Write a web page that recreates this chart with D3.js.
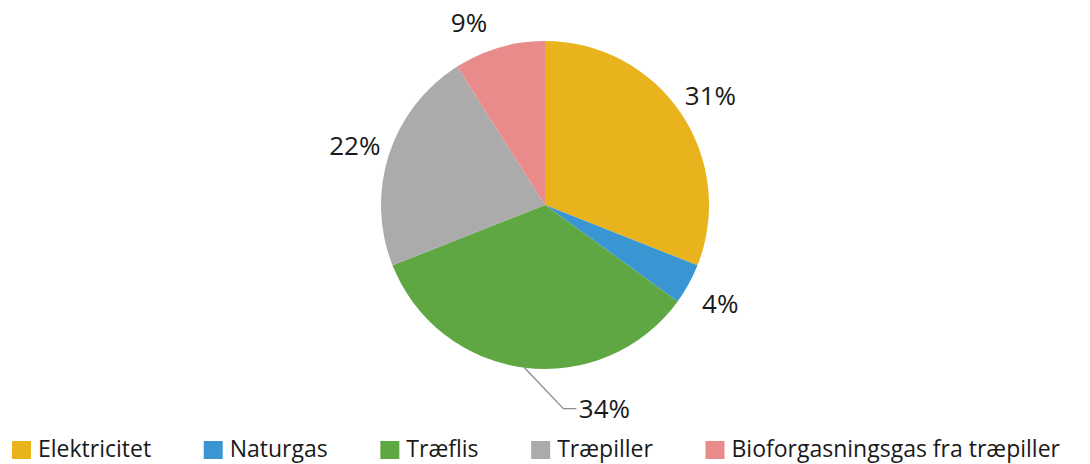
<!DOCTYPE html>
<html>
<head>
<meta charset="utf-8">
<script src="https://cdn.jsdelivr.net/npm/d3@7"></script>
<style>
  body { margin: 0; background: #fff; }
  text { font-family: "Open Sans", "Liberation Sans", sans-serif; fill: #1a1a1a; }
</style>
</head>
<body>
<div id="chart"></div>
<script>
// data
const categories = ['Elektricitet', 'Naturgas', 'Træflis', 'Træpiller', 'Bioforgasningsgas fra træpiller'];
const shares = [31, 4, 34, 22, 9];
const colors = ['#E8B31C', '#3996D2', '#5EA743', '#ABABAB', '#E98A8B'];

const width = 1090, height = 464;
const cx = 545, cy = 205, radius = 164;
const labelRadius = 200;

const svg = d3.select('#chart')
  .append('svg')
  .attr('width', width)
  .attr('height', height);

const pie = d3.pie().sort(null).value(d => d.value);
const slices = pie(categories.map((c, i) => ({ name: c, value: shares[i], color: colors[i] })));

const arc = d3.arc().innerRadius(0).outerRadius(radius);
const labelArc = d3.arc().innerRadius(labelRadius).outerRadius(labelRadius);
const edgeArc = d3.arc().innerRadius(radius).outerRadius(radius);

const g = svg.append('g').attr('transform', `translate(${cx},${cy})`);

g.selectAll('path.slice')
  .data(slices)
  .enter()
  .append('path')
  .attr('class', 'slice')
  .attr('d', arc)
  .attr('fill', d => d.data.color);

// labels; the 34% label was dragged away from the slice and has a leader line
const topLimit = 20 - cy;
slices.forEach(d => {
  let pos = labelArc.centroid(d);
  let shift = 12;
  if (pos[1] < topLimit) {
    // keep label inside the frame, slide it along the label circle
    const y = topLimit;
    pos = [Math.sign(pos[0]) * Math.sqrt(labelRadius * labelRadius - y * y), y];
  }
  if (d.data.name === 'Træflis') {
    const edge = edgeArc.centroid(d);
    const knee = [edge[0] + 39, edge[1] + 41];
    const end = [knee[0] + 13, knee[1]];
    g.append('path')
      .attr('d', d3.line()([edge, knee, end]))
      .attr('fill', 'none')
      .attr('stroke', '#8c8c8c')
      .attr('stroke-width', 1.3);
    pos = [end[0] + 28, end[1]];
    shift = 9;
  }
  g.append('text')
    .attr('x', pos[0])
    .attr('y', pos[1] + shift)
    .attr('text-anchor', 'middle')
    .style('font-size', '26px')
    .text(d.data.value + '%');
});

// legend
const legend = svg.append('g').attr('class', 'legend');
const items = legend.selectAll('g')
  .data(slices)
  .enter()
  .append('g');
items.append('rect')
  .attr('width', 19)
  .attr('height', 18)
  .attr('y', 441)
  .attr('fill', d => d.data.color);
items.append('text')
  .attr('x', 26)
  .attr('y', 457)
  .style('font-size', '23px')
  .text(d => d.data.name);

const left = 12, right = 1060;
let widths = [];
items.each(function() {
  widths.push(26 + d3.select(this).select('text').node().getComputedTextLength());
});
const gap = (right - left - d3.sum(widths)) / (widths.length - 1);
let x = left;
items.each(function(d, i) {
  d3.select(this).attr('transform', `translate(${x},0)`);
  x += widths[i] + gap;
});
</script>
</body>
</html>
